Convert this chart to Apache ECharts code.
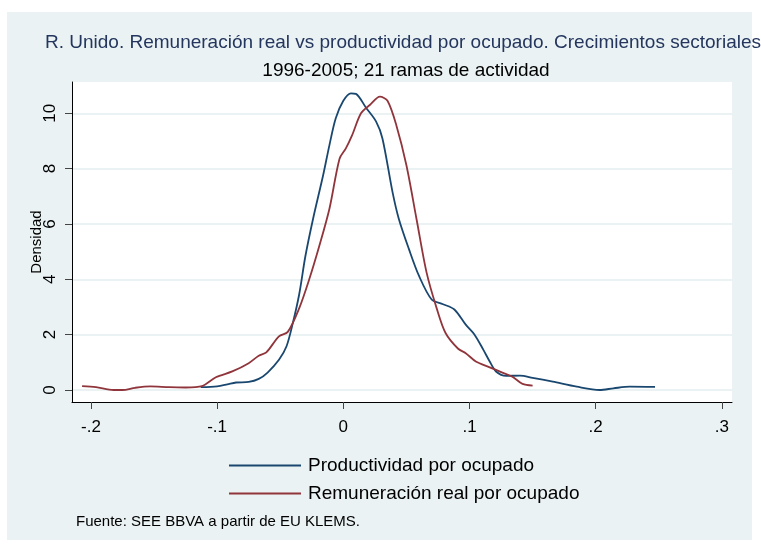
<!DOCTYPE html>
<html>
<head>
<meta charset="utf-8">
<script src="https://cdn.jsdelivr.net/npm/echarts@6/dist/echarts.min.js"></script>
<style>
  html, body { margin: 0; padding: 0; background: #fff; }
  #chart { width: 761px; height: 545px; }
</style>
</head>
<body>
<div id="chart"></div>
<script>
// densidades (kernel)
var prodX = [-0.113, -0.100, -0.092, -0.085, -0.075, -0.067, -0.060, -0.051, -0.045, -0.040,
  -0.035, -0.030, -0.024, -0.016, -0.011, -0.006, 0.000, 0.006, 0.010, 0.018,
  0.026, 0.031, 0.039, 0.044, 0.052, 0.060, 0.070, 0.079, 0.088, 0.097,
  0.104, 0.111, 0.116, 0.121, 0.129, 0.140, 0.150, 0.166, 0.185, 0.203,
  0.214, 0.227, 0.247];
var prodY = [0.10, 0.13, 0.20, 0.27, 0.29, 0.40, 0.63, 1.09, 1.58, 2.42,
  3.45, 4.85, 6.18, 7.76, 8.85, 9.82, 10.45, 10.72, 10.70, 10.20,
  9.70, 9.09, 7.15, 6.18, 5.09, 4.12, 3.27, 3.10, 2.91, 2.36,
  2.00, 1.45, 1.03, 0.67, 0.51, 0.52, 0.44, 0.30, 0.12, 0.00,
  0.06, 0.12, 0.11];

var remX = [-0.207, -0.196, -0.182, -0.175, -0.165, -0.153, -0.138, -0.125, -0.112, -0.101,
  -0.088, -0.075, -0.067, -0.061, -0.051, -0.044, -0.035, -0.027, -0.019, -0.011,
  -0.003, 0.002, 0.007, 0.014, 0.021, 0.029, 0.035, 0.042, 0.050, 0.058,
  0.066, 0.074, 0.081, 0.091, 0.097, 0.105, 0.116, 0.126, 0.134, 0.142,
  0.150];
var remY = [0.14, 0.10, 0.00, 0.00, 0.08, 0.13, 0.10, 0.09, 0.14, 0.46,
  0.67, 0.97, 1.24, 1.36, 1.94, 2.10, 2.95, 4.00, 5.21, 6.55,
  8.36, 8.73, 9.21, 10.00, 10.30, 10.60, 10.45, 9.57, 8.12, 6.18,
  4.24, 2.95, 2.06, 1.49, 1.33, 1.03, 0.82, 0.63, 0.48, 0.22,
  0.16];

var xTicks = [-0.2, -0.1, 0, 0.1, 0.2, 0.3];
var yTicks = [0, 2, 4, 6, 8, 10];

function zip(xs, ys) {
  return xs.map(function (x, i) { return [x, ys[i]]; });
}
function stataNum(v) {
  if (Math.abs(v) < 1e-9) return '0';
  var s = Math.abs(v).toFixed(1).replace(/^0/, '');
  return (v < 0 ? '-' : '') + s;
}

var chart = echarts.init(document.getElementById('chart'));
var font = 'Liberation Sans, Arial, sans-serif';

var option = {
  backgroundColor: '#fff',
  animation: false,
  graphic: [
    { type: 'rect', z: -10, shape: { x: 7, y: 12, width: 745, height: 528 }, style: { fill: '#eaf2f3' } },
    { type: 'text', left: 76, top: 514, style: { text: 'Fuente: SEE BBVA a partir de EU KLEMS.', fill: '#000', font: '15px ' + font } }
  ],
  title: [
    { text: 'R. Unido. Remuneración real vs productividad por ocupado. Crecimientos sectoriales',
      left: 398, top: 28, textAlign: 'center',
      textStyle: { fontFamily: font, fontSize: 19, fontWeight: 'normal', color: '#24365e' } },
    { text: '1996-2005; 21 ramas de actividad',
      left: 401, top: 56, textAlign: 'center',
      textStyle: { fontFamily: font, fontSize: 19, fontWeight: 'normal', color: '#000' } }
  ],
  legend: {
    orient: 'vertical',
    left: 224, top: 451,
    itemWidth: 72, itemHeight: 2, itemGap: 9,
    icon: 'rect',
    textStyle: { fontFamily: font, fontSize: 19, color: '#000', padding: [0, 0, 0, 2] },
    data: ['Productividad por ocupado', 'Remuneración real por ocupado']
  },
  grid: {
    left: 72, right: 29, top: 82, bottom: 143,
    show: true, backgroundColor: '#fff', borderWidth: 0
  },
  xAxis: {
    type: 'value', min: -0.215, max: 0.308,
    axisLine: { show: true, onZero: false, lineStyle: { color: '#000', width: 1 } },
    axisTick: { show: true, length: 7, customValues: xTicks, lineStyle: { color: '#444' } },
    axisLabel: { customValues: xTicks, margin: 17, fontFamily: font, fontSize: 17, color: '#000', formatter: stataNum },
    splitLine: { show: false }
  },
  yAxis: {
    type: 'value', min: -0.434, max: 11.13,
    name: 'Densidad', nameLocation: 'middle', nameGap: 28, nameRotate: 90, nameMoveOverlap: false,
    nameTextStyle: { fontFamily: font, fontSize: 15, color: '#000' },
    axisLine: { show: true, onZero: false, lineStyle: { color: '#000', width: 1 } },
    axisTick: { show: true, length: 7, customValues: yTicks, lineStyle: { color: '#444' } },
    axisLabel: { customValues: yTicks, rotate: 90, margin: 13, fontFamily: font, fontSize: 17, color: '#000' },
    splitLine: { show: true, lineStyle: { color: '#eaf2f3', width: 2 } }
  },
  series: [
    { name: 'Productividad por ocupado', type: 'line', data: zip(prodX, prodY),
      showSymbol: false, smooth: 0.3, color: '#1a476f', lineStyle: { width: 1.8 } },
    { name: 'Remuneración real por ocupado', type: 'line', data: zip(remX, remY),
      showSymbol: false, smooth: 0.3, color: '#90353b', lineStyle: { width: 1.8 } }
  ]
};
chart.setOption(option);
</script>
</body>
</html>
